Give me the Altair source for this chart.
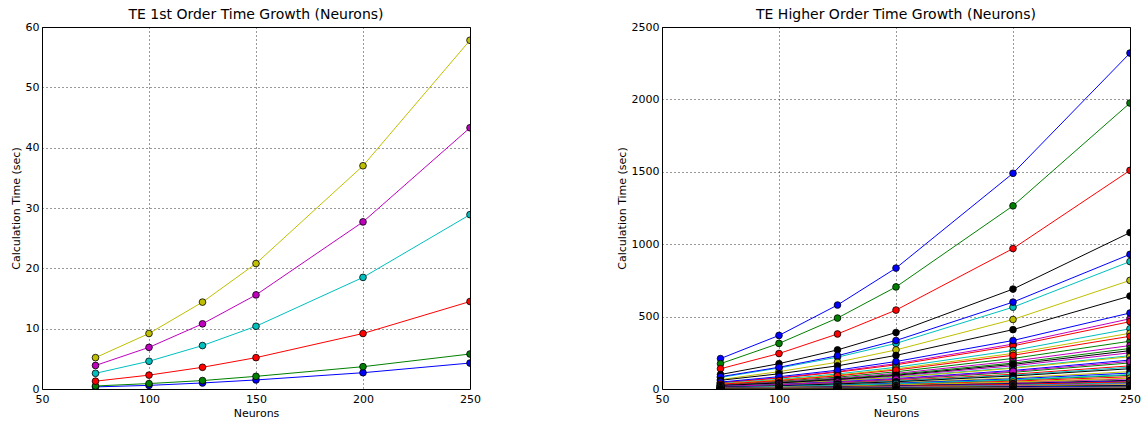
import altair as alt
import pandas as pd

neurons = [75, 100, 125, 150, 200, 250]

# Left panel: TE 1st order
first_colors = ["#0000ff", "#008000", "#ff0000", "#00bfbf", "#bf00bf", "#bfbf00"]
first_values = [
    [0.35, 0.6, 1.0, 1.5, 2.7, 4.3],
    [0.5, 0.9, 1.4, 2.1, 3.7, 5.8],
    [1.3, 2.3, 3.6, 5.2, 9.2, 14.5],
    [2.6, 4.6, 7.2, 10.4, 18.5, 28.9],
    [3.9, 6.9, 10.8, 15.6, 27.7, 43.3],
    [5.2, 9.2, 14.4, 20.8, 37.0, 57.8],
]

# Right panel: TE higher order
higher_colors = ["#0000ff", "#008000", "#ff0000", "#00bfbf", "#bf00bf", "#bfbf00", "#000000"] * 7
higher_values = [
    [210, 370, 580, 835, 1490, 2320],
    [175, 315, 490, 705, 1265, 1975],
    [140, 245, 380, 545, 970, 1510],
    [80, 145, 220, 315, 565, 880],
    [44, 78, 121, 175, 310, 485],
    [65, 120, 185, 270, 480, 750],
    [100, 175, 270, 390, 690, 1080],
    [85, 150, 230, 335, 600, 930],
    [30, 53, 82, 119, 211, 330],
    [42, 75, 116, 167, 298, 465],
    [38, 67, 104, 150, 266, 416],
    [27, 48, 75, 108, 192, 300],
    [35, 62, 96, 139, 246, 385],
    [60, 105, 160, 232, 410, 642],
    [48, 85, 130, 190, 335, 525],
    [25, 45, 70, 101, 179, 280],
    [33, 58, 91, 131, 233, 364],
    [21, 37, 57, 83, 147, 230],
    [23, 40, 62, 90, 160, 250],
    [20, 36, 56, 80, 143, 223],
    [24, 42, 66, 95, 170, 265],
    [18, 32, 50, 72, 128, 200],
    [16, 29, 45, 65, 115, 180],
    [14, 26, 40, 58, 102, 160],
    [14, 24, 37, 54, 96, 150],
    [17, 30, 47, 68, 122, 190],
    [11, 19, 30, 43, 77, 120],
    [13, 22, 35, 50, 90, 140],
    [10, 18, 27, 40, 70, 110],
    [9, 15, 24, 34, 61, 95],
    [8, 14, 21, 31, 54, 85],
    [9, 16, 25, 36, 64, 100],
    [6, 11, 17, 25, 45, 70],
    [7, 12, 19, 27, 48, 75],
    [5, 10, 15, 22, 38, 60],
    [5, 9, 14, 20, 35, 55],
    [4, 7, 11, 16, 29, 45],
    [4.5, 8, 12, 18, 32, 50],
    [3.6, 6.4, 10, 14, 26, 40],
    [3.2, 5.6, 9, 13, 22, 35],
    [2.7, 4.8, 7.5, 11, 19, 30],
    [2.3, 4, 6, 9, 16, 25],
    [1.8, 3.2, 5, 7, 13, 20],
    [1.4, 2.4, 3.8, 5.4, 9.6, 15],
    [1.1, 1.9, 3, 4.3, 7.7, 12],
    [0.9, 1.6, 2.5, 3.6, 6.4, 10],
    [0.7, 1.3, 2, 2.9, 5.1, 8],
    [0.5, 1, 1.5, 2.2, 3.8, 6],
    [0.4, 0.6, 1, 1.4, 2.6, 4],
]


def make_df(values, colors):
    rows = []
    for i, (vals, col) in enumerate(zip(values, colors)):
        for x, y in zip(neurons, vals):
            rows.append({"series": i, "x": x, "y": y, "color": col})
    return pd.DataFrame(rows)


FONT = "DejaVu Sans"


def panel(df, title, ymax, ystep, width):
    xenc = alt.X("x:Q", title="Neurons",
                 scale=alt.Scale(domain=[50, 250], nice=False, zero=False),
                 axis=alt.Axis(values=[50, 100, 150, 200, 250], labelFlush=False,
                               format="d", labelPadding=4, titlePadding=3))
    yenc = alt.Y("y:Q", title="Calculation Time (sec)",
                 scale=alt.Scale(domain=[0, ymax], nice=False),
                 axis=alt.Axis(values=list(range(0, ymax + 1, ystep)), labelFlush=False,
                               format="d", labelPadding=3, titlePadding=4))
    base = alt.Chart(df)
    lines = base.mark_line(strokeWidth=1, clip=True).encode(
        x=xenc, y=yenc, detail="series:N", color=alt.Color("color:N", scale=None)
    )
    pts = base.mark_point(filled=True, shape="circle", size=45, stroke="black",
                          strokeWidth=0.8, opacity=1, clip=True).encode(
        x="x:Q", y="y:Q", fill=alt.Fill("color:N", scale=None)
    )
    return alt.layer(lines, pts).properties(
        width=width, height=362,
        title=alt.TitleParams(title, fontSize=14, font=FONT, fontWeight="normal",
                              color="black", offset=-1),
    )


left = panel(make_df(first_values, first_colors), "TE 1st Order Time Growth (Neurons)", 60, 10, 428)
right = panel(make_df(higher_values, higher_colors), "TE Higher Order Time Growth (Neurons)", 2500, 500, 468)

chart = alt.hconcat(left, right, spacing=134).properties(
    padding={"left": 9, "top": 7, "right": 0, "bottom": 0}
).configure(background="white").configure_view(
    stroke="black", strokeWidth=1
).configure_axis(
    grid=True, gridColor="black", gridDash=[1, 3], gridOpacity=0.8, gridWidth=1,
    domain=False, ticks=False,
    labelFont=FONT, labelFontSize=11, labelColor="black",
    titleFont=FONT, titleFontSize=11, titleFontWeight="normal", titleColor="black",
)

chart.save("out.html", embed_options={"renderer": "svg", "actions": False})
